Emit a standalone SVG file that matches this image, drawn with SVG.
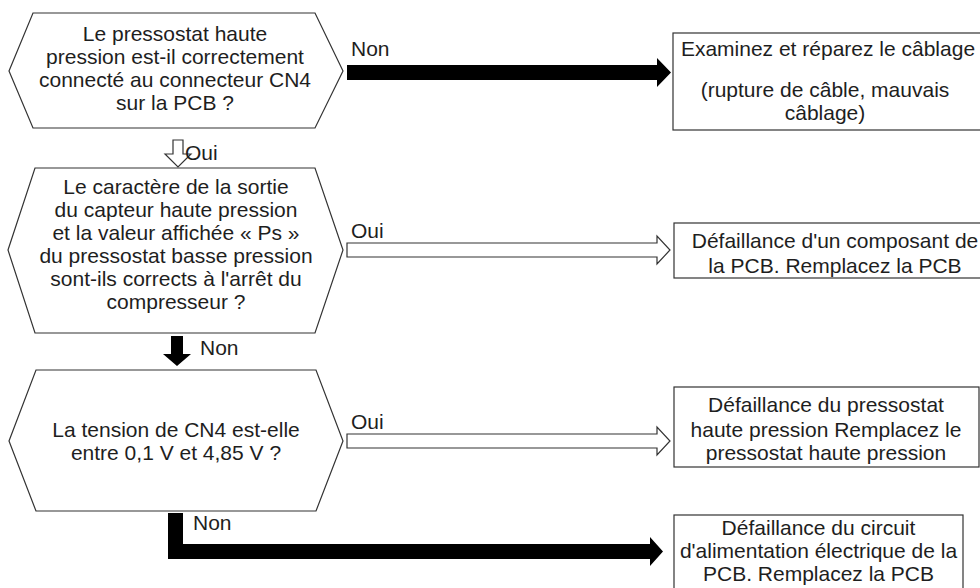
<svg xmlns="http://www.w3.org/2000/svg" width="980" height="588" viewBox="0 0 980 588">
  <style>
    .shape { fill: #ffffff; stroke: #333333; stroke-width: 1.2; }
    .t { font-family: "Liberation Sans", Arial, sans-serif; font-size: 21px; fill: #1e1e1e; text-anchor: middle; }
    .lbl { font-family: "Liberation Sans", Arial, sans-serif; font-size: 21px; fill: #1e1e1e; }
    .solid { fill: #000000; stroke: none; }
    .hollow { fill: #ffffff; stroke: #333333; stroke-width: 1.2; stroke-linejoin: miter; }
  </style>
  <rect width="980" height="588" fill="#ffffff"/>

  <!-- connectors -->
  <g id="connectors">
    <!-- q1 -> fix wiring (Non) -->
    <polygon class="solid" points="347,65 657,65 657,58 671,72.5 657,87 657,80 347,80"/>
    <text class="lbl" x="351" y="56">Non</text>
    <!-- q1 -> q2 (Oui) -->
    <polygon class="hollow" points="173,140 183,140 183,154 191,154 178,167 165,154 173,154"/>
    <text class="lbl" x="185" y="160">Oui</text>
    <!-- q2 -> PCB fault (Oui) -->
    <polygon class="hollow" points="347,243 657,243 657,236 670,250 657,264 657,257 347,257"/>
    <text class="lbl" x="351" y="238">Oui</text>
    <!-- q2 -> q3 (Non) -->
    <polygon class="solid" points="171,336 183,336 183,354 191,354 177,366 163,354 171,354"/>
    <text class="lbl" x="200" y="355">Non</text>
    <!-- q3 -> sensor fault (Oui) -->
    <polygon class="hollow" points="347,434 657,434 657,427 670,441 657,455 657,448 347,448"/>
    <text class="lbl" x="351" y="429">Oui</text>
    <!-- q3 -> power circuit fault (Non) -->
    <polygon class="solid" points="168,513 183,513 183,544 650,544 650,537 663,551.5 650,566 650,559 168,559"/>
    <text class="lbl" x="193" y="530">Non</text>
  </g>

  <!-- decision 1 -->
  <g id="q1">
    <polygon class="shape" points="9,71 33,13 315,13 343,71 315,128 33,128"/>
    <text class="t" x="175" y="41">Le pressostat haute</text>
    <text class="t" x="175" y="64">pression est-il correctement</text>
    <text class="t" x="175" y="87">connecté au connecteur CN4</text>
    <text class="t" x="175" y="110">sur la PCB ?</text>
  </g>

  <!-- decision 2 -->
  <g id="q2">
    <polygon class="shape" points="8,250 35,168 315,168 343,250 315,333 35,333"/>
    <text class="t" x="176" y="194">Le caractère de la sortie</text>
    <text class="t" x="176" y="217">du capteur haute pression</text>
    <text class="t" x="176" y="240">et la valeur affichée « Ps »</text>
    <text class="t" x="176" y="263">du pressostat basse pression</text>
    <text class="t" x="176" y="286">sont-ils corrects à l'arrêt du</text>
    <text class="t" x="176" y="309">compresseur ?</text>
  </g>

  <!-- decision 3 -->
  <g id="q3">
    <polygon class="shape" points="9,441 36,370 316,370 343,441 316,511 36,511"/>
    <text class="t" x="176" y="437">La tension de CN4 est-elle</text>
    <text class="t" x="176" y="460">entre 0,1 V et 4,85 V ?</text>
  </g>

  <!-- outcome: wiring -->
  <g id="r1">
    <rect class="shape" x="673" y="33" width="320" height="97"/>
    <text class="t" x="828" y="56">Examinez et réparez le câblage</text>
    <text class="t" x="825" y="97">(rupture de câble, mauvais</text>
    <text class="t" x="825" y="120">câblage)</text>
  </g>

  <!-- outcome: PCB component -->
  <g id="r2">
    <rect class="shape" x="674" y="223" width="320" height="55"/>
    <text class="t" x="835" y="248">Défaillance d'un composant de</text>
    <text class="t" x="835" y="273">la PCB. Remplacez la PCB</text>
  </g>

  <!-- outcome: high pressure sensor -->
  <g id="r3">
    <rect class="shape" x="674" y="387" width="305" height="80"/>
    <text class="t" x="826" y="412">Défaillance du pressostat</text>
    <text class="t" x="826" y="437">haute pression Remplacez le</text>
    <text class="t" x="826" y="460">pressostat haute pression</text>
  </g>

  <!-- outcome: power supply circuit -->
  <g id="r4">
    <rect class="shape" x="674" y="515" width="289" height="85"/>
    <text class="t" x="818.5" y="535">Défaillance du circuit</text>
    <text class="t" x="818.5" y="558">d'alimentation électrique de la</text>
    <text class="t" x="818.5" y="581">PCB. Remplacez la PCB</text>
  </g>
</svg>
